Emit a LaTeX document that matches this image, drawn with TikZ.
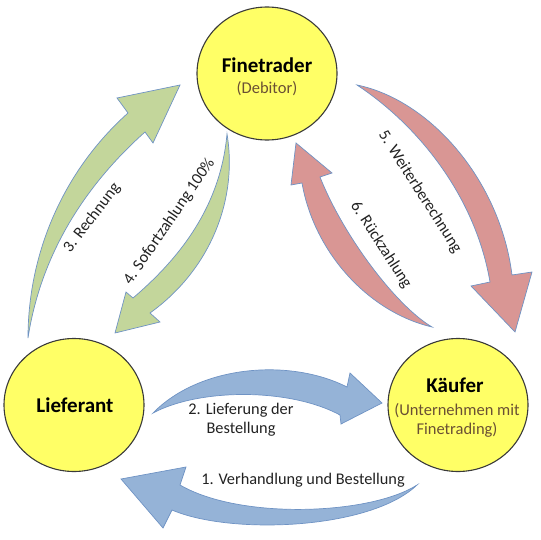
\documentclass[tikz,border=0pt]{standalone}
\usepackage{fontspec}
\setmainfont{Carlito}
\usetikzlibrary{shapes.geometric}
\definecolor{greenfill}{HTML}{C3D69B}
\definecolor{redfill}{HTML}{D99694}
\definecolor{bluefill}{HTML}{95B3D7}
\definecolor{arrowline}{HTML}{6F93C4}
\definecolor{partyfill}{HTML}{FFFF66}
\definecolor{partyline}{HTML}{3A3A3A}
\definecolor{subtext}{HTML}{6A5034}
\definecolor{labeltext}{HTML}{222222}
\begin{document}
\begin{tikzpicture}[x=1pt,y=-1pt,
  party/.style={ellipse, draw=partyline, line width=1.1pt, fill=partyfill,
    minimum width=140pt, minimum height=133pt, inner sep=0pt},
  titletext/.style={font=\fontsize{21}{24}\selectfont\bfseries, text=black, inner sep=0pt},
  subtext/.style={font=\fontsize{16.5}{19}\selectfont, text=subtext, align=center, inner sep=0pt},
  flowlabel/.style={font=\fontsize{16.3}{19}\selectfont, text=labeltext, align=center, inner sep=0pt},
  blockarrow/.style={draw=arrowline, line width=0.7pt, line join=miter}]
\useasboundingbox (0,0) rectangle (540,540);
% parties
\node[party] (fin) at (267,73.5) {};
\node[party] (lie) at (74,405) {};
\node[party] (kae) at (458,405) {};
\node[titletext] (fint) at (267,65) {Finetrader};
\node[subtext] (fins) at (267,89) {(Debitor)};
\node[titletext] (liet) at (75,405) {Lieferant};
\node[titletext] (kaet) at (455,385) {Käufer};
\node[subtext] (kaes) at (457,420) {(Unternehmen mit\\Finetrading)};
% arrow 3: Rechnung (green, up)
\path[blockarrow, fill=greenfill] (28,338) .. controls (28,255) and (62,172) .. (128,113)
  -- (117,98) -- (180,85) -- (153,143) -- (145,132)
  .. controls (80,190) and (40,260) .. (28,338) -- cycle;
% arrow 4: Sofortzahlung (green, down)
\path[blockarrow, fill=greenfill] (227,134) .. controls (238,200) and (210,270) .. (150,313)
  -- (160,322) -- (115,333) -- (126,292) -- (133,298)
  .. controls (187,252) and (221,200) .. (227,134) -- cycle;
% arrow 5: Weiterberechnung (red, down)
\path[blockarrow, fill=redfill] (357,85) .. controls (430,100) and (500,180) .. (512,275)
  -- (532,272) -- (515,332) -- (471,286) -- (490,282)
  .. controls (476,200) and (422,128) .. (357,85) -- cycle;
% arrow 6: Rueckzahlung (red, up)
\path[blockarrow, fill=redfill] (432,327) .. controls (368,312) and (314,252) .. (302,183)
  -- (291,185) -- (296,143) -- (332,173) -- (320,177)
  .. controls (343,235) and (395,305) .. (432,327) -- cycle;
% arrow 2: Lieferung (blue, right)
\path[blockarrow, fill=bluefill] (153,413) .. controls (200,365) and (290,358) .. (347,387)
  -- (350,373) -- (382,403) -- (341,424) -- (340,415)
  .. controls (290,388) and (200,388) .. (153,413) -- cycle;
% arrow 1: Verhandlung (blue, left)
\path[blockarrow, fill=bluefill] (417,485) .. controls (370,515) and (240,520) .. (180,485)
  -- (186,467) -- (121,479) -- (163,528) -- (172,510)
  .. controls (230,535) and (370,530) .. (417,485) -- cycle;
% labels
\node[flowlabel, rotate=52.7] (l3) at (92,218) {3. Rechnung};
\node[flowlabel, rotate=55.6] (l4) at (169.5,221.5) {4. Sofortzahlung 100\%};
\node[flowlabel, rotate=-57.5] (l5) at (420,192) {5. Weiterberechnung};
\node[flowlabel, rotate=-57.4] (l6) at (381,245) {6. Rückzahlung};
\node[flowlabel] (l2) at (241,420) {2. Lieferung der\\Bestellung};
\node[flowlabel] (l1) at (303,480) {1. Verhandlung und Bestellung};
\end{tikzpicture}
\end{document}
